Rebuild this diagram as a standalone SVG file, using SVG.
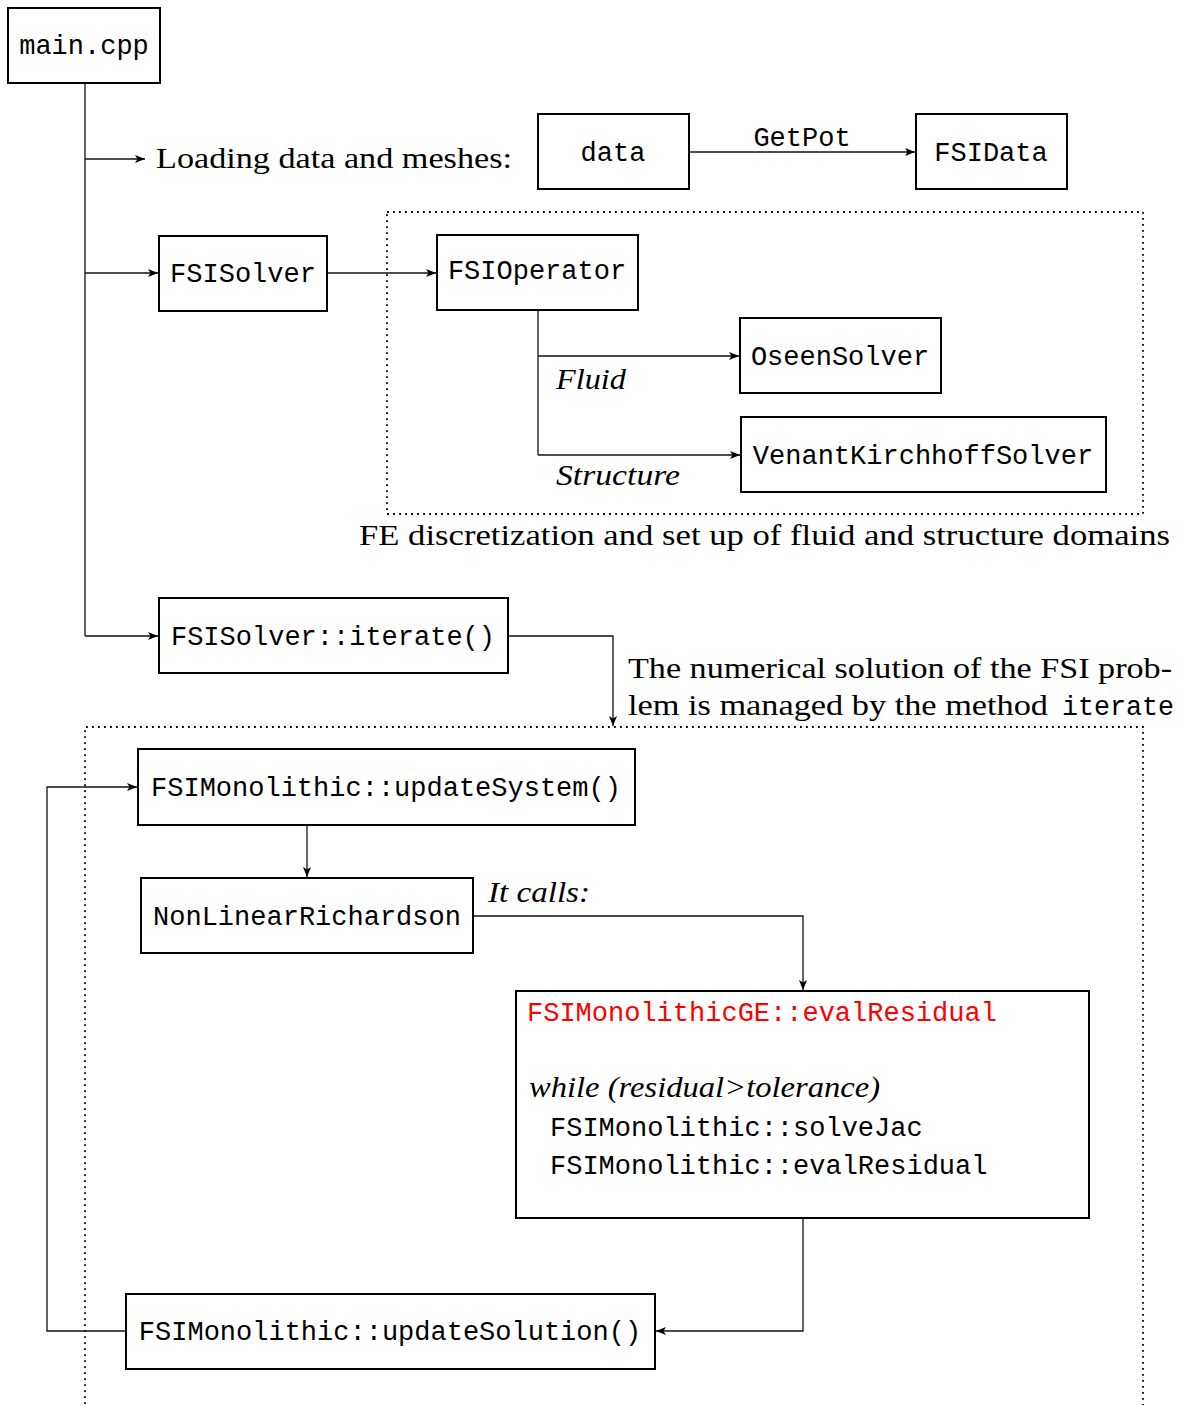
<svg xmlns="http://www.w3.org/2000/svg" width="1184" height="1405" viewBox="0 0 1184 1405">
  <style>
    .box { fill: #fff; stroke: #000; stroke-width: 2; }
    .tt { font-family: "Liberation Mono", "DejaVu Sans Mono", monospace; font-size: 27px; fill: #000; }
    .rm { font-family: "Liberation Serif", "DejaVu Serif", serif; font-size: 30px; fill: #000; }
    .it { font-family: "Liberation Serif", "DejaVu Serif", serif; font-size: 30px; font-style: italic; fill: #000; }
    .wire { fill: none; stroke: #111; stroke-width: 1.3; }
    .dots { fill: none; stroke: #000; stroke-width: 1.8; stroke-dasharray: 1.8 4.2; }
  </style>
  <defs>
    <marker id="arr" viewBox="0 0 10 8" refX="10" refY="4" markerWidth="10" markerHeight="8" markerUnits="userSpaceOnUse" orient="auto">
      <path d="M0,0 L10,4 L0,8 L2.5,4 Z" fill="#000"/>
    </marker>
  </defs>

  <rect width="1184" height="1405" fill="#fff"/>

  <!-- dotted grouping frames -->
  <g id="frames">
    <rect class="dots" x="387" y="212" width="756" height="302"/>
    <path class="dots" d="M85,1410 V727 H1143 V1410"/>
  </g>

  <!-- connectors -->
  <g id="connectors">
    <path class="wire" d="M85,83 V636"/>
    <path class="wire" d="M85,159 H145" marker-end="url(#arr)"/>
    <path class="wire" d="M85,273 H158" marker-end="url(#arr)"/>
    <path class="wire" d="M85,636 H158" marker-end="url(#arr)"/>
    <path class="wire" d="M689,152 H915" marker-end="url(#arr)"/>
    <path class="wire" d="M327,273 H436" marker-end="url(#arr)"/>
    <path class="wire" d="M538,310 V455"/>
    <path class="wire" d="M538,356 H739" marker-end="url(#arr)"/>
    <path class="wire" d="M538,455 H740" marker-end="url(#arr)"/>
    <path class="wire" d="M508,636 H613 V726" marker-end="url(#arr)"/>
    <path class="wire" d="M307,825 V877" marker-end="url(#arr)"/>
    <path class="wire" d="M473,916 H803 V990" marker-end="url(#arr)"/>
    <path class="wire" d="M803,1218 V1331 H656" marker-end="url(#arr)"/>
    <path class="wire" d="M126,1331 H47 V787 H137" marker-end="url(#arr)"/>
  </g>

  <!-- connector labels -->
  <g id="labels">
    <text class="rm" x="156" y="168" textLength="356" lengthAdjust="spacingAndGlyphs">Loading data and meshes:</text>
    <text class="tt" x="802" y="146" text-anchor="middle">GetPot</text>
    <text class="it" x="556" y="389" textLength="70" lengthAdjust="spacingAndGlyphs">Fluid</text>
    <text class="it" x="556" y="485" textLength="124" lengthAdjust="spacingAndGlyphs">Structure</text>
    <text class="rm" x="359" y="545" textLength="811" lengthAdjust="spacingAndGlyphs">FE discretization and set up of fluid and structure domains</text>
    <text class="rm" x="628" y="678" textLength="544" lengthAdjust="spacingAndGlyphs">The numerical solution of the FSI prob-</text>
    <text class="rm" x="628" y="715" textLength="420" lengthAdjust="spacingAndGlyphs">lem is managed by the method</text>
    <text class="tt" x="1062" y="715" textLength="112" lengthAdjust="spacingAndGlyphs">iterate</text>
    <text class="it" x="488" y="902" textLength="102" lengthAdjust="spacingAndGlyphs">It calls:</text>
  </g>

  <!-- nodes -->
  <g id="main">
    <rect class="box" x="8" y="8" width="152" height="75"/>
    <text class="tt" x="84" y="54" text-anchor="middle">main.cpp</text>
  </g>
  <g id="data">
    <rect class="box" x="538" y="114" width="151" height="75"/>
    <text class="tt" x="613" y="161" text-anchor="middle">data</text>
  </g>
  <g id="fsidata">
    <rect class="box" x="916" y="114" width="151" height="75"/>
    <text class="tt" x="991" y="161" text-anchor="middle">FSIData</text>
  </g>
  <g id="fsisolver">
    <rect class="box" x="159" y="236" width="168" height="75"/>
    <text class="tt" x="243" y="282" text-anchor="middle">FSISolver</text>
  </g>
  <g id="fsioperator">
    <rect class="box" x="437" y="235" width="201" height="75"/>
    <text class="tt" x="537" y="279" text-anchor="middle">FSIOperator</text>
  </g>
  <g id="oseen">
    <rect class="box" x="740" y="318" width="201" height="75"/>
    <text class="tt" x="840" y="365" text-anchor="middle">OseenSolver</text>
  </g>
  <g id="venant">
    <rect class="box" x="741" y="417" width="365" height="75"/>
    <text class="tt" x="923" y="464" text-anchor="middle">VenantKirchhoffSolver</text>
  </g>
  <g id="iterate">
    <rect class="box" x="159" y="598" width="349" height="75"/>
    <text class="tt" x="333" y="645" text-anchor="middle">FSISolver::iterate()</text>
  </g>
  <g id="updatesystem">
    <rect class="box" x="138" y="749" width="497" height="76"/>
    <text class="tt" x="386" y="796" text-anchor="middle">FSIMonolithic::updateSystem()</text>
  </g>
  <g id="richardson">
    <rect class="box" x="141" y="878" width="332" height="75"/>
    <text class="tt" x="307" y="925" text-anchor="middle">NonLinearRichardson</text>
  </g>
  <g id="evalresidual">
    <rect class="box" x="516" y="991" width="573" height="227"/>
    <text class="tt" x="527" y="1021" fill="#f00" style="fill:#f00">FSIMonolithicGE::evalResidual</text>
    <text class="it" x="529" y="1097" textLength="351" lengthAdjust="spacingAndGlyphs">while (residual&gt;tolerance)</text>
    <text class="tt" x="550" y="1136">FSIMonolithic::solveJac</text>
    <text class="tt" x="550" y="1174">FSIMonolithic::evalResidual</text>
  </g>
  <g id="updatesolution">
    <rect class="box" x="126" y="1294" width="529" height="75"/>
    <text class="tt" x="390" y="1340" text-anchor="middle">FSIMonolithic::updateSolution()</text>
  </g>
</svg>
